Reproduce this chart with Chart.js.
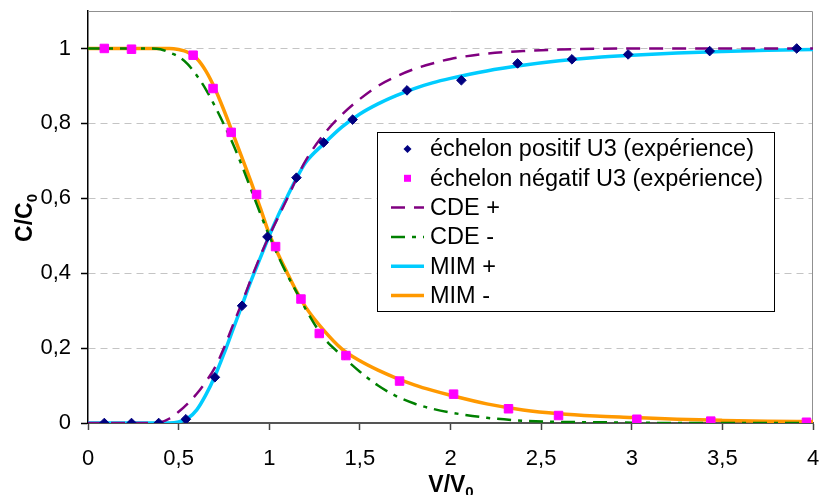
<!DOCTYPE html>
<html>
<head>
<meta charset="utf-8">
<script src="https://cdn.jsdelivr.net/npm/chart.js@4.4.0/dist/chart.umd.min.js"></script>
<style>
  html, body { margin: 0; padding: 0; background: #fff; }
  #wrap { width: 820px; height: 495px; }
</style>
</head>
<body>
<div id="wrap"><canvas id="chart" width="820" height="495"></canvas></div>
<script>
// experimental points
const posX = [0.09, 0.24, 0.39, 0.54, 0.70, 0.85, 0.99, 1.15, 1.30, 1.46, 1.76, 2.06, 2.37, 2.67, 2.98, 3.43, 3.91];
const posY = [0, 0, 0, 0.01, 0.122, 0.313, 0.497, 0.655, 0.749, 0.81, 0.888, 0.915, 0.96, 0.971, 0.984, 0.993, 1.0];
const negX = [0.09, 0.24, 0.58, 0.69, 0.79, 0.93, 1.035, 1.175, 1.276, 1.423, 1.719, 2.017, 2.32, 2.596, 3.028, 3.436, 3.964];
const negY = [1.0, 0.998, 0.982, 0.893, 0.776, 0.61, 0.471, 0.331, 0.239, 0.18, 0.112, 0.077, 0.038, 0.02, 0.01, 0.005, 0.002];

// model curves
const modelX = [0, 0.2, 0.35, 0.4, 0.45, 0.5, 0.55, 0.6, 0.65, 0.7, 0.75, 0.8, 0.85, 0.9, 0.95, 1.0, 1.05, 1.1, 1.15, 1.2,
                1.3, 1.4, 1.5, 1.6, 1.7, 1.8, 1.9, 2.0, 2.2, 2.4, 2.6, 2.8, 3.0, 3.25, 3.5, 3.75, 4.0];
const cdePlus = [0, 0, 0, 0.002, 0.012, 0.03, 0.052, 0.078, 0.11, 0.148, 0.2, 0.262, 0.322, 0.385, 0.445, 0.5, 0.55, 0.6, 0.652, 0.7,
                 0.77, 0.823, 0.865, 0.9, 0.925, 0.945, 0.96, 0.972, 0.986, 0.993, 0.997, 0.999, 1, 1, 1, 1, 1];
const cdeMinus = [1, 1, 1, 0.998, 0.989, 0.978, 0.958, 0.928, 0.891, 0.846, 0.797, 0.745, 0.686, 0.623, 0.56, 0.5, 0.445, 0.395, 0.35, 0.305,
                  0.228, 0.18, 0.137, 0.1, 0.072, 0.052, 0.038, 0.028, 0.014, 0.006, 0.003, 0.002, 0.001, 0, 0, 0, 0];
const mimPlus = [0, 0, 0, 0, 0, 0.003, 0.012, 0.035, 0.075, 0.125, 0.185, 0.25, 0.315, 0.38, 0.44, 0.5, 0.555, 0.605, 0.653, 0.695,
                 0.745, 0.79, 0.825, 0.852, 0.874, 0.893, 0.908, 0.92, 0.94, 0.955, 0.967, 0.976, 0.982, 0.988, 0.992, 0.995, 0.997];
const mimMinus = [1, 1, 1, 1, 1, 0.997, 0.99, 0.973, 0.94, 0.893, 0.835, 0.772, 0.708, 0.643, 0.575, 0.505, 0.45, 0.4, 0.352, 0.31,
                  0.248, 0.198, 0.166, 0.141, 0.12, 0.102, 0.087, 0.074, 0.051, 0.035, 0.025, 0.019, 0.015, 0.01, 0.007, 0.005, 0.004];

const seriesNames = ['échelon positif U3 (expérience)', 'échelon négatif U3 (expérience)', 'CDE +', 'CDE -', 'MIM +', 'MIM -'];
const xTitle = ['V/V', '0'];
const yTitle = ['C/C', '0'];

const FONT = '"Liberation Sans", Arial, sans-serif';
const pts = (xs, ys) => xs.map((x, i) => ({ x: x, y: ys[i] }));
const fmt = v => String(Math.round(v * 10) / 10).replace('.', ',');

function drawSubText(ctx, main, sub, cx, cy, rot) {
  ctx.save();
  ctx.translate(cx, cy);
  if (rot) ctx.rotate(-Math.PI / 2);
  ctx.fillStyle = '#000';
  ctx.textBaseline = 'alphabetic';
  ctx.textAlign = 'left';
  ctx.font = 'bold 23px ' + FONT;
  const w1 = ctx.measureText(main).width;
  ctx.font = 'bold 15px ' + FONT;
  const w2 = ctx.measureText(sub).width;
  const x0 = -(w1 + w2) / 2;
  ctx.font = 'bold 23px ' + FONT;
  ctx.fillText(main, x0, 8);
  ctx.font = 'bold 15px ' + FONT;
  ctx.fillText(sub, x0 + w1, 13);
  ctx.restore();
}

const decor = {
  id: 'decor',
  beforeDatasetsDraw(chart) {
    const { ctx, chartArea: a } = chart;
    ctx.save();
    ctx.strokeStyle = '#909090';
    ctx.lineWidth = 1;
    ctx.beginPath();
    ctx.moveTo(a.left, a.top + 0.5);
    ctx.lineTo(a.right - 0.5, a.top + 0.5);
    ctx.lineTo(a.right - 0.5, a.bottom);
    ctx.stroke();
    ctx.restore();
  },
  afterDraw(chart) {
    const ctx = chart.ctx;
    // axis titles
    drawSubText(ctx, yTitle[0], yTitle[1], 24, 218, true);
    drawSubText(ctx, xTitle[0], xTitle[1], 451, 484, false);

    // legend box
    const bx = 377, by = 132, bw = 397, bh = 179;
    ctx.save();
    ctx.fillStyle = '#fff';
    ctx.fillRect(bx, by, bw, bh);
    ctx.strokeStyle = '#000';
    ctx.lineWidth = 1;
    ctx.strokeRect(bx + 0.5, by + 0.5, bw, bh);
    const ds = chart.data.datasets;
    const sx0 = 391, sx1 = 424, sxm = 407.5, tx = 430;
    ctx.font = '23.5px ' + FONT;
    ctx.textBaseline = 'middle';
    ctx.textAlign = 'left';
    seriesNames.forEach((name, i) => {
      const y = 149 + i * 29.3;
      const d = ds[i];
      ctx.save();
      if (i === 0) {
        ctx.fillStyle = d.backgroundColor;
        ctx.beginPath();
        ctx.moveTo(sxm - 4, y); ctx.lineTo(sxm, y - 4); ctx.lineTo(sxm + 4, y); ctx.lineTo(sxm, y + 4);
        ctx.closePath(); ctx.fill();
      } else if (i === 1) {
        ctx.fillStyle = d.backgroundColor;
        ctx.fillRect(sxm - 3.5, y - 3.5, 7, 7);
      } else {
        ctx.strokeStyle = d.borderColor;
        ctx.lineWidth = d.borderWidth;
        ctx.setLineDash(d.borderDash || []);
        ctx.beginPath();
        ctx.moveTo(sx0, y); ctx.lineTo(sx1, y);
        ctx.stroke();
      }
      ctx.restore();
      ctx.fillStyle = '#000';
      ctx.fillText(name, tx, y + 1);
    });
    ctx.restore();
  }
};

const lineDs = (label, ys, color, width, dash) => ({
  label: label,
  data: pts(modelX, ys),
  showLine: true,
  borderColor: color,
  backgroundColor: color,
  borderWidth: width,
  borderDash: dash,
  pointRadius: 0,
  cubicInterpolationMode: 'monotone',
  fill: false
});

new Chart(document.getElementById('chart'), {
  type: 'scatter',
  data: {
    datasets: [
      {
        label: seriesNames[0], data: pts(posX, posY),
        pointStyle: 'rectRot', pointRadius: 4.8, borderWidth: 1,
        backgroundColor: '#000080', borderColor: '#000080', showLine: false
      },
      {
        label: seriesNames[1], data: pts(negX, negY),
        pointStyle: 'rect', pointRadius: 6, borderWidth: 1,
        backgroundColor: '#ff00ff', borderColor: '#ff00ff', showLine: false
      },
      lineDs(seriesNames[2], cdePlus, '#800080', 2.5, [14, 9]),
      lineDs(seriesNames[3], cdeMinus, '#008000', 2.5, [14, 7, 4, 7]),
      lineDs(seriesNames[4], mimPlus, '#00ccff', 3.5, []),
      lineDs(seriesNames[5], mimMinus, '#ff9900', 3.5, [])
    ]
  },
  options: {
    responsive: false,
    animation: false,
    layout: { padding: { top: 11, right: 7, left: 0, bottom: 0 } },
    plugins: { legend: { display: false }, tooltip: { enabled: false } },
    scales: {
      x: {
        type: 'linear', min: 0, max: 4,
        ticks: {
          stepSize: 0.5, padding: 16, maxRotation: 0, color: '#000',
          font: { family: FONT, size: 22 }, callback: v => fmt(v)
        },
        grid: { drawOnChartArea: false, tickColor: '#444', tickLength: 7, tickWidth: 1.5 },
        border: { color: '#555', width: 2 },
        afterFit: s => { s.height = 72; s.paddingLeft = 0; s.paddingRight = 0; }
      },
      y: {
        min: 0, max: 1.1,
        ticks: {
          stepSize: 0.2, includeBounds: false, padding: 10, color: '#000',
          font: { family: FONT, size: 22 }, callback: v => fmt(v)
        },
        grid: {
          color: c => (c.tick && c.tick.value > 0.01) ? '#c4c4c4' : 'rgba(0,0,0,0)',
          lineWidth: 1, tickColor: '#000', tickLength: 7, tickWidth: 1.5
        },
        border: { color: '#000', width: 1.5, dash: [7, 5] },
        afterFit: s => { s.width = 88; s.paddingTop = 0; s.paddingBottom = 0; }
      }
    }
  },
  plugins: [decor]
});
</script>
</body>
</html>
